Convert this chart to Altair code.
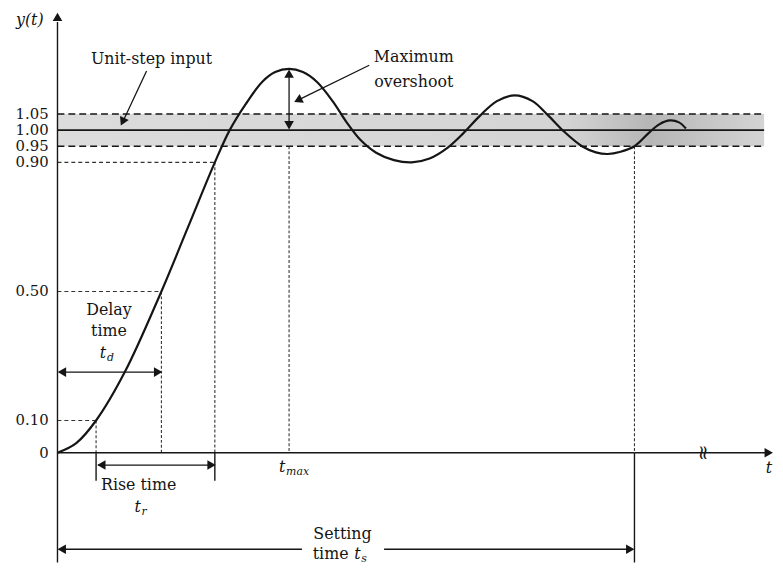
import altair as alt
import pandas as pd

# ---- data (time units, response units) ----
curve_t = [0.00, 0.19, 0.39, 0.68, 1.05, 1.32, 1.59, 1.74, 1.90, 2.07, 2.20, 2.34,
           2.48, 2.62, 2.78, 2.92, 3.06, 3.22, 3.40, 3.58, 3.76, 3.94, 4.10, 4.27,
           4.44, 4.62, 4.80, 4.96, 5.12, 5.30, 5.44, 5.56, 5.69, 5.83, 5.97, 6.08,
           6.19, 6.28, 6.35]
curve_y = [0.000, 0.030, 0.100, 0.250, 0.500, 0.700, 0.900, 1.000, 1.080, 1.150, 1.180, 1.190,
           1.180, 1.150, 1.090, 1.025, 0.970, 0.930, 0.907, 0.900, 0.912, 0.945, 0.990, 1.045,
           1.090, 1.108, 1.090, 1.045, 0.995, 0.950, 0.931, 0.926, 0.933, 0.950, 0.990, 1.018,
           1.030, 1.024, 1.005]

tick_values = [0.0, 0.10, 0.50, 0.90, 0.95, 1.00, 1.05]
tick_labels = ["0", "0.10", "0.50", "0.90", "0.95", "1.00", "1.05"]

band_low, band_high, band_end = 0.95, 1.05, 7.14
t_10, t_d, t_90, t_max, t_s = 0.39, 1.05, 1.59, 2.34, 5.83
y_peak = 1.19
axis_end_t, axis_top_y = 7.17, 1.335

X_DOMAIN = [-0.50, 7.17]
Y_DOMAIN = [-0.3482, 1.3696]

FONT = "DejaVu Serif"
INK = "#151515"

xs = alt.Scale(domain=X_DOMAIN, nice=False, zero=False)
ys = alt.Scale(domain=Y_DOMAIN, nice=False, zero=False)


def X(f):
    return alt.X(f, type="quantitative", scale=xs, axis=None)


def Y(f):
    return alt.Y(f, type="quantitative", scale=ys, axis=None)


def hrules(ys_, t0s, t1s, **kw):
    df = pd.DataFrame({"y": ys_, "t0": t0s, "t1": t1s})
    return alt.Chart(df).mark_rule(**kw).encode(x=X("t0"), x2="t1", y=Y("y"))


def vrules(ts, y0s, y1s, **kw):
    df = pd.DataFrame({"t": ts, "y0": y0s, "y1": y1s})
    return alt.Chart(df).mark_rule(**kw).encode(x=X("t"), y=Y("y0"), y2="y1")


def segs(x0, y0, x1, y1, **kw):
    df = pd.DataFrame({"x0": x0, "y0": y0, "x1": x1, "y1": y1})
    return alt.Chart(df).mark_rule(**kw).encode(x=X("x0"), y=Y("y0"), x2="x1", y2="y1")


def texts(ts, ys_, labels, **kw):
    df = pd.DataFrame({"t": ts, "y": ys_, "label": labels})
    base = dict(font=FONT, color=INK, baseline="middle")
    base.update(kw)
    return alt.Chart(df).mark_text(**base).encode(x=X("t"), y=Y("y"), text="label:N")


gradient = alt.Gradient(
    gradient="linear", x1=0, x2=1, y1=0, y2=0,
    stops=[alt.GradientStop(offset=0, color="#dcdcdc"),
           alt.GradientStop(offset=0.72, color="#d4d4d4"),
           alt.GradientStop(offset=0.84, color="#b6b6b6"),
           alt.GradientStop(offset=0.92, color="#c6c6c6"),
           alt.GradientStop(offset=1, color="#d4d4d4")])

band = alt.Chart(pd.DataFrame({"t0": [0], "t1": [band_end], "y0": [band_low], "y1": [band_high]})) \
    .mark_rect(color=gradient).encode(x=X("t0"), x2="t1", y=Y("y0"), y2="y1")

band_lines = hrules([band_high, band_low], [0, 0], [band_end, band_end],
                    color=INK, strokeWidth=1.4, strokeDash=[7, 4])
unit_line = hrules([1.00], [0], [band_end], color=INK, strokeWidth=1.6)
level_lines = hrules([0.90, 0.50, 0.10], [0, 0, 0], [t_90, t_d, t_10],
                     color="#333", strokeWidth=1.1, strokeDash=[4, 3])

drop_lines = vrules([t_10, t_d, t_90, t_max, t_s], [0.10, 0.50, 0.90, 0.95, 0.95], [0, 0, 0, 0, 0],
                    color="#333", strokeWidth=1.1, strokeDash=[3, 2])
solid_drops = vrules([t_10, t_90, t_s, 0], [0, 0, 0, -0.340], [-0.087, -0.087, -0.340, axis_top_y],
                     color=INK, strokeWidth=1.4)
x_axis = hrules([0, 0], [0, t_s], [t_s, axis_end_t], color=INK, strokeWidth=1.6)

curve = alt.Chart(pd.DataFrame({"t": curve_t, "y": curve_y})).mark_line(
    interpolate="catmull-rom", color=INK, strokeWidth=2.2).encode(x=X("t"), y=Y("y"))

shafts = segs([0.02, 0.41, 0.02, 3.30, t_max, 0.90, 3.15],
              [0.25, -0.038, -0.299, -0.299, 1.18, 1.183, 1.201],
              [1.03, 1.57, 2.47, 5.81, t_max, 0.66, 2.43],
              [0.25, -0.038, -0.299, -0.299, 1.01, 1.026, 1.093],
              color=INK, strokeWidth=1.3)

heads_df = pd.DataFrame({
    "t": [0.045, 1.017, 0.443, 1.557, 0.043, 5.787, t_max, t_max, 0.658, 2.43, 7.187, 0.0],
    "y": [0.25, 0.25, -0.038, -0.038, -0.299, -0.299, 1.175, 1.015, 1.026, 1.093, 0.0, 1.351],
    "ang": [270, 90, 270, 90, 270, 90, 0, 180, 205, 244, 90, 0],
})
heads = alt.Chart(heads_df).mark_point(shape="triangle-up", filled=True, size=95, opacity=1,
                                       color=INK, strokeWidth=0).encode(
    x=X("t"), y=Y("y"), angle=alt.Angle("ang:Q", scale=None))

tick_text = texts([-0.09] * len(tick_values), tick_values, tick_labels, align="right", fontSize=15)

plain_text = texts(
    [0.95, 3.60, 3.60, 0.52, 0.52, 0.82, 2.88, 2.76],
    [1.219, 1.225, 1.149, 0.443, 0.376, -0.100, -0.253, -0.314],
    ["Unit-step input", "Maximum", "overshoot", "Delay", "time", "Rise time", "Setting", "time"],
    align="center", fontSize=16)

italic_text = texts(
    [-0.28, 0.46, 0.81, 2.27, 7.19, 3.03],
    [1.342, 0.308, -0.167, -0.044, -0.048, -0.314],
    ["y(t)", "t", "t", "t", "t", "t"],
    align="center", fontSize=16, fontStyle="italic")

sub_text = texts(
    [0.50, 0.85, 2.31, 3.07],
    [0.293, -0.183, -0.060, -0.330],
    ["d", "r", "max", "s"],
    align="left", fontSize=11, fontStyle="italic")

break_mark = texts([6.52], [0.0], ["≈"], align="center", fontSize=20, angle=90)

chart = alt.layer(
    band, band_lines, unit_line, level_lines, drop_lines, solid_drops, x_axis,
    curve, shafts, heads, tick_text, plain_text, italic_text, sub_text, break_mark
).properties(
    width=767, height=560,
    padding={"left": 0, "top": 0, "right": 8, "bottom": 0},
    autosize=alt.AutoSizeParams(type="none"),
    background="white",
).configure_view(stroke=None)

chart.save("out.html", embed_options={"renderer": "svg", "actions": False})
